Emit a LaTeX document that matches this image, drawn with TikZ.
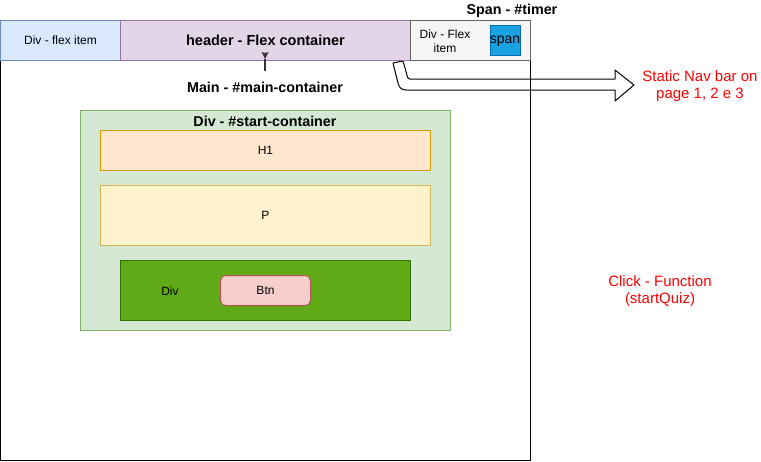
\documentclass[tikz,border=0pt]{standalone}
\usepackage{fontspec}
\setmainfont{Liberation Sans}
\usetikzlibrary{arrows.meta,calc}
\definecolor{blueF}{HTML}{DAE8FC}\definecolor{blueS}{HTML}{6C8EBF}
\definecolor{purpF}{HTML}{E1D5E7}\definecolor{purpS}{HTML}{9673A6}
\definecolor{grayF}{HTML}{F5F5F5}\definecolor{grayS}{HTML}{666666}
\definecolor{spanF}{HTML}{1BA1E2}\definecolor{spanS}{HTML}{006EAF}
\definecolor{greenF}{HTML}{D5E8D4}\definecolor{greenS}{HTML}{82B366}
\definecolor{orF}{HTML}{FFE6CC}\definecolor{orS}{HTML}{D79B00}
\definecolor{yeF}{HTML}{FFF2CC}\definecolor{yeS}{HTML}{D6B656}
\definecolor{dgF}{HTML}{60A917}\definecolor{dgS}{HTML}{2D7600}
\definecolor{redF}{HTML}{F8CECC}\definecolor{redS}{HTML}{B85450}
\definecolor{redT}{HTML}{FF0000}
\definecolor{arrC}{HTML}{333333}
\tikzset{
  box/.style={draw, line width=1pt, anchor=north west, inner sep=0pt, align=center,
    font=\fontsize{12}{14}\selectfont},
  lbl/.style={inner sep=0pt, align=center, font=\fontsize{12}{14}\selectfont},
  blbl/.style={inner sep=0pt, align=center, font=\bfseries\fontsize{14.3}{16}\selectfont},
  rlbl/.style={inner sep=0pt, align=center, text=redT, font=\fontsize{15}{17.5}\selectfont},
}
\begin{document}
\begin{tikzpicture}[x=1pt,y=-1pt]
\useasboundingbox (0,0) rectangle (761,461);
% main container
\node[box, fill=white, minimum width=530pt, minimum height=400pt] (main) at (0,60) {};
% big hollow arrow
\draw[line width=1pt, line join=round]
  (393,63) -- (398,83) .. controls (399,87) and (401,90) .. (406,90) -- (615,90) -- (615,101)
  -- (634,85) -- (615,70) -- (615,79) -- (410,79) .. controls (409,79) and (408,78.5) .. (407.5,77) -- (403,61) -- cycle;
% header row
\node[box, fill=blueF, draw=blueS, minimum width=120pt, minimum height=40pt] (flex1) at (0,20) {Div - flex item};
\node[box, fill=purpF, draw=purpS, minimum width=290pt, minimum height=40pt, font=\bfseries\fontsize{14.5}{16}\selectfont] (hdr) at (120,20) {header - Flex container};
\node[box, fill=grayF, draw=grayS, minimum width=120pt, minimum height=40pt] (flex2) at (410,20) {};
\node[lbl] (flex2t) at (445,41) {Div - Flex\\item};
\node[box, fill=spanF, draw=spanS, minimum width=30pt, minimum height=30pt] (span) at (490,25) {};
\node[lbl, font=\fontsize{14}{16}\selectfont] (spant) at (505,41) {span};
\node[blbl] (timer) at (512,11) {Span - \#timer};
% main label + small arrow
\node[blbl] (mainlbl) at (265,87) {Main - \#main-container};
\coordinate (arrtip) at (265,59);
\coordinate (arrbot) at (265,71);
\draw[line width=1.3pt, draw=arrC] (arrtip) -- (arrbot);
\fill[arrC] ($(arrtip)+(-3.5,-7)$) -- ($(arrtip)+(0,-6)$) -- ($(arrtip)+(3.5,-7)$) -- (arrtip) -- cycle;
% start container
\node[box, fill=greenF, draw=greenS, minimum width=370pt, minimum height=220pt] (start) at (80,110) {};
\node[blbl] (startlbl) at (265,121) {Div - \#start-container};
\node[box, fill=orF, draw=orS, minimum width=330pt, minimum height=40pt] (h1) at (100,130) {H1};
\node[box, fill=yeF, draw=yeS, minimum width=330pt, minimum height=60pt] (p) at (100,185) {P};
\node[box, fill=dgF, draw=dgS, minimum width=290pt, minimum height=60pt] (div) at (120,260) {};
\node[lbl] (divt) at (170,291) {Div};
\node[box, fill=redF, draw=redS, rounded corners=5pt, minimum width=90pt, minimum height=30pt] (btn) at (220,275) {Btn};
% red notes
\node[rlbl] (nav) at (700,86) {Static Nav bar on\\page 1, 2 e 3};
\node[rlbl] (click) at (660,291) {Click - Function\\(startQuiz)};
\end{tikzpicture}
\end{document}
